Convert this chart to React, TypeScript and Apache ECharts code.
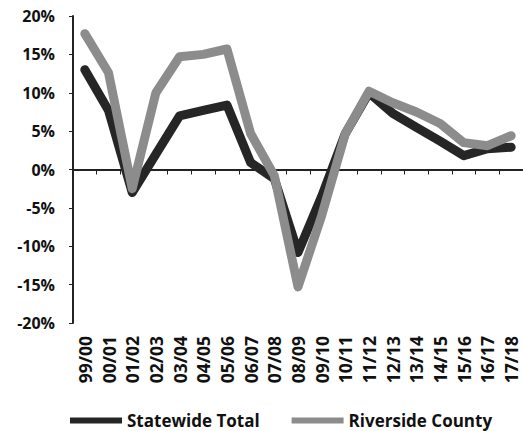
import React, { useEffect, useRef } from "react";
import * as echarts from "echarts";

const categories = [
  "99/00", "00/01", "01/02", "02/03", "03/04", "04/05", "05/06", "06/07", "07/08", "08/09",
  "09/10", "10/11", "11/12", "12/13", "13/14", "14/15", "15/16", "16/17", "17/18",
];
const statewideTotal = [13, 7.7, -3, 2, 7, 7.7, 8.4, 0.9, -1.2, -10.8, -3.5, 4.7, 10, 7.3, 5.5, 3.7, 1.8, 2.7, 2.9];
const riversideCounty = [17.7, 12.6, -2.5, 10, 14.7, 15, 15.7, 4.7, -0.8, -15.3, -6, 4.7, 10.2, 8.7, 7.5, 6, 3.5, 3.1, 4.4];
const seriesNames = ["Statewide Total", "Riverside County"];
const yMin = -20;
const yMax = 20;
const yStep = 5;

const FONT = "'Open Sans', 'DejaVu Sans', sans-serif";

export default function App() {
  const ref = useRef<HTMLDivElement>(null);
  useEffect(() => {
    if (!ref.current) return;
    const chart = echarts.init(ref.current, null, { renderer: "svg" });
    chart.setOption({
      animation: false,
      backgroundColor: "#ffffff",
      grid: { left: 73, right: 0, top: 16, bottom: 108, containLabel: false },
      legend: {
        left: 65,
        top: 407,
        icon: "rect",
        itemWidth: 52,
        itemHeight: 6,
        itemGap: 32,
        textStyle: { fontFamily: FONT, fontSize: 17, fontWeight: "bold", color: "#111" },
        data: seriesNames,
      },
      xAxis: [
        {
          type: "category",
          data: categories,
          position: "bottom",
          boundaryGap: true,
          axisLine: { show: false, onZero: false },
          axisTick: { show: false },
          axisLabel: {
            rotate: 90,
            margin: 13,
            interval: 0,
            fontFamily: FONT,
            fontSize: 17.5,
            fontWeight: "bold",
            color: "#111",
          },
        },
        {
          type: "category",
          data: categories,
          position: "top",
          boundaryGap: true,
          axisLine: { show: true, onZero: true, lineStyle: { color: "#222", width: 2 } },
          axisTick: { show: true, inside: true, length: 5, interval: 0, lineStyle: { color: "#222", width: 1 } },
          axisLabel: { show: false },
        },
      ],
      yAxis: {
        type: "value",
        min: yMin,
        max: yMax,
        interval: yStep,
        axisLine: { show: true, lineStyle: { color: "#222", width: 2 } },
        axisTick: { show: true, length: 4, lineStyle: { color: "#222" } },
        splitLine: { show: false },
        axisLabel: {
          margin: 18,
          formatter: "{value}%",
          fontFamily: FONT,
          fontSize: 16,
          fontWeight: "bold",
          color: "#111",
        },
      },
      series: [
        {
          name: seriesNames[0],
          type: "line",
          xAxisIndex: 0,
          data: statewideTotal,
          showSymbol: false,
          color: "#262626",
          lineStyle: { width: 9, color: "#262626", cap: "round", join: "round" },
        },
        {
          name: seriesNames[1],
          type: "line",
          xAxisIndex: 0,
          data: riversideCounty,
          showSymbol: false,
          color: "#8c8c8c",
          lineStyle: { width: 9, color: "#8c8c8c", cap: "round", join: "round" },
        },
      ],
    });
    return () => chart.dispose();
  }, []);
  return (
    <div
      ref={ref}
      style={{ position: "fixed", left: 0, top: 0, width: 523, height: 431, background: "#fff" }}
    />
  );
}
